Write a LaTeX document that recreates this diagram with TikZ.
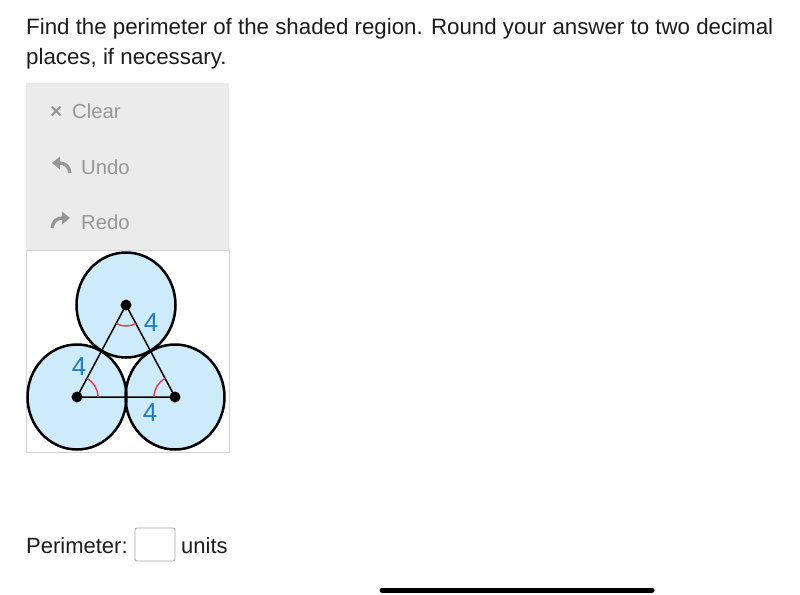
\documentclass[tikz,border=0pt]{standalone}
\usepackage{fontspec}
\setmainfont{Liberation Sans}
\usetikzlibrary{angles}
\definecolor{txt}{RGB}{28,28,28}
\definecolor{tool}{RGB}{150,150,150}
\definecolor{panel}{RGB}{235,235,235}
\definecolor{fillblue}{RGB}{205,235,251}
\definecolor{lblue}{RGB}{30,125,195}
\definecolor{angred}{RGB}{220,60,80}
\tikzset{
  heading/.style={anchor=base west, inner sep=0pt, text=txt, font=\fontsize{22.3}{26}\selectfont},
  toolitem/.style={anchor=base west, inner sep=0pt, text=tool, font=\fontsize{20.3}{24}\selectfont},
  disc/.style={draw=black, line width=2.5pt},
  side/.style={draw=black, line width=1.5pt},
  dotc/.style={circle, fill=black, inner sep=0pt, minimum size=11pt},
  lenlabel/.style={inner sep=0pt, text=lblue, font=\fontsize{26}{30}\selectfont},
  angmark/.style={draw=angred, line width=1.4pt, angle radius=21pt}
}
\begin{document}
\begin{tikzpicture}[x=1pt,y=1pt]
\useasboundingbox (0,0) rectangle (800,-594);
\fill[white] (0,0) rectangle (800,-594);
% heading
\node[heading] (h1) at (26,-35) {Find the perimeter of the shaded region. Round your answer to two decimal};
\node[heading] (h2) at (26,-64) {places, if necessary.};
% toolbar
\fill[panel] (26,-83) rectangle (229,-250);
\draw[draw=panel!90!black, line width=0.6pt] (26,-250) rectangle (229,-452);
\node[toolitem] (clearx) at (50,-118) {\fontsize{21}{24}\selectfont\bfseries ×};
\node[toolitem] (clear) at (72,-118) {Clear};
\node[toolitem] (undo) at (81,-174) {Undo};
\node[toolitem] (redo) at (81,-229) {Redo};
% undo icon
\fill[tool] (52,-163) -- (60,-156.5) -- (60,-169.5) -- cycle;
\draw[tool, line width=3.4pt] (59,-163) .. controls (65,-163) and (69,-166) .. (70,-173);
% redo icon
\fill[tool] (70,-218) -- (62,-211.5) -- (62,-224.5) -- cycle;
\draw[tool, line width=3.4pt] (63,-218) .. controls (57,-218) and (53,-221) .. (52,-228);
% circles
\coordinate (T) at (126,-305);
\coordinate (L) at (77,-397);
\coordinate (R) at (175,-397);
\fill[fillblue] (T) ellipse [x radius=49.5, y radius=52.5];
\fill[fillblue] (L) ellipse [x radius=49.5, y radius=52.5];
\fill[fillblue] (R) ellipse [x radius=49.5, y radius=52.5];
\draw[disc] (T) ellipse [x radius=49.5, y radius=52.5];
\draw[disc] (L) ellipse [x radius=49.5, y radius=52.5];
\draw[disc] (R) ellipse [x radius=49.5, y radius=52.5];
% triangle
\draw[side] (T) -- (L) -- (R) -- cycle;
\pic[angmark] {angle = L--T--R};
\pic[angmark] {angle = R--L--T};
\pic[angmark] {angle = T--R--L};
\node[dotc] (dT) at (T) {};
\node[dotc] (dL) at (L) {};
\node[dotc] (dR) at (R) {};
\node[lenlabel] (l1) at (151,-323) {4};
\node[lenlabel] (l2) at (79,-367) {4};
\node[lenlabel] (l3) at (150,-413) {4};
% answer line
\node[heading, font=\fontsize{22}{26}\selectfont] (per) at (26,-553) {Perimeter:};
\draw[draw=gray!70, line width=0.8pt, rounded corners=2pt] (135,-528) rectangle (175,-561);
\node[heading, font=\fontsize{22}{26}\selectfont] (units) at (181,-553) {units};
% home bar
\draw[black, line width=5pt, line cap=round] (382,-590) -- (652,-590);
\end{tikzpicture}
\end{document}
